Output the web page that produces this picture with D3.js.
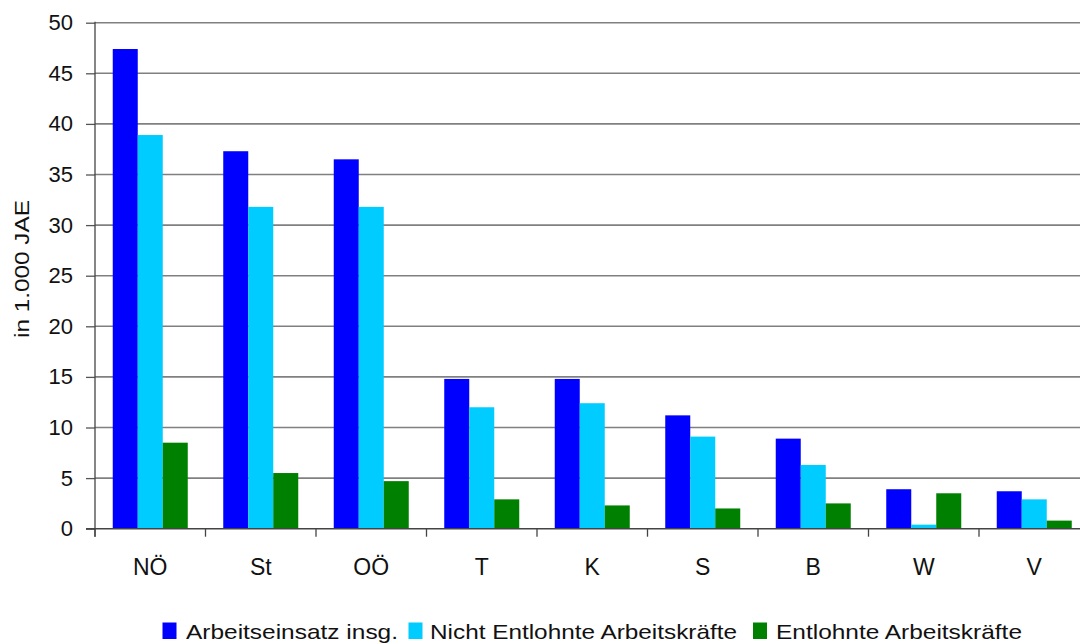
<!DOCTYPE html>
<html>
<head>
<meta charset="utf-8">
<script src="https://cdn.jsdelivr.net/npm/d3@7"></script>
<style>
  html, body { margin: 0; padding: 0; background: #fff; }
  svg { display: block; font-family: "Liberation Sans", Arial, sans-serif; }
</style>
</head>
<body>
<svg id="chart" width="1080" height="644"></svg>
<script>
// Bundesländer
const categories = ["NÖ", "St", "OÖ", "T", "K", "S", "B", "W", "V"];
// Arbeitseinsatz in 1.000 JAE
const seriesNames = ["Arbeitseinsatz insg.", "Nicht Entlohnte Arbeitskräfte", "Entlohnte Arbeitskräfte"];
const arbeitseinsatz = [47.4, 37.3, 36.5, 14.8, 14.8, 11.2, 8.9, 3.9, 3.7];
const nichtEntlohnt  = [38.9, 31.8, 31.8, 12.0, 12.4, 9.1, 6.3, 0.4, 2.9];
const entlohnt       = [8.5, 5.5, 4.7, 2.9, 2.3, 2.0, 2.5, 3.5, 0.8];
const yTicks = [0, 5, 10, 15, 20, 25, 30, 35, 40, 45, 50];
const colors = ["#0000FF", "#00CCFF", "#008000"];
const yTitle = "in 1.000 JAE";

const seriesValues = [arbeitseinsatz, nichtEntlohnt, entlohnt];

const svg = d3.select("#chart");
const plotLeft = 95, plotRight = 1089.5, plotTop = 22.7, plotBottom = 528.7;

const x0 = d3.scaleBand().domain(categories).range([plotLeft, plotRight]).paddingInner(0).paddingOuter(0);
const x1 = d3.scaleBand().domain(seriesNames).range([0, x0.bandwidth()]).paddingInner(0).paddingOuter(0.71);
const y = d3.scaleLinear().domain([0, 50]).range([plotBottom, plotTop]);

// gridlines
svg.append("g").selectAll("line")
  .data(yTicks.filter(d => d > 0))
  .join("line")
  .attr("x1", plotLeft).attr("x2", 1080)
  .attr("y1", d => y(d)).attr("y2", d => y(d))
  .attr("stroke", "#808080").attr("stroke-width", 1.6);

// y axis ticks and labels
const yAxis = d3.axisLeft(y).tickValues(yTicks).tickSize(9).tickPadding(13);
const gy = svg.append("g").attr("transform", `translate(${plotLeft},0)`).call(yAxis);
gy.select(".domain").remove();
gy.selectAll(".tick line").attr("stroke", "#555").attr("stroke-width", 1.3);
gy.selectAll(".tick text")
  .attr("font-size", 22).attr("fill", "#111")
  .attr("font-family", "Liberation Sans, Arial, sans-serif");

// bars
const groups = svg.append("g").selectAll("g")
  .data(categories)
  .join("g")
  .attr("transform", d => `translate(${x0(d)},0)`);

groups.selectAll("rect")
  .data((c, i) => seriesNames.map((s, k) => ({ s, k, v: seriesValues[k][i] })))
  .join("rect")
  .attr("x", d => x1(d.s))
  .attr("width", x1.bandwidth())
  .attr("y", d => y(d.v))
  .attr("height", d => y(0) - y(d.v))
  .attr("fill", d => colors[d.k]);

// y axis line
svg.append("line")
  .attr("x1", plotLeft).attr("x2", plotLeft)
  .attr("y1", plotTop - 1).attr("y2", plotBottom + 8)
  .attr("stroke", "#444").attr("stroke-width", 1.3);

// x axis line, category ticks and labels
svg.append("line")
  .attr("x1", plotLeft - 9).attr("x2", 1080)
  .attr("y1", plotBottom).attr("y2", plotBottom)
  .attr("stroke", "#444").attr("stroke-width", 1.6);

svg.append("g").selectAll("line")
  .data(categories)
  .join("line")
  .attr("x1", d => x0(d)).attr("x2", d => x0(d))
  .attr("y1", plotBottom).attr("y2", plotBottom + 8)
  .attr("stroke", "#444").attr("stroke-width", 1.3);

svg.append("g").selectAll("text")
  .data(categories)
  .join("text")
  .attr("x", d => x0(d) + x0.bandwidth() / 2)
  .attr("y", 575)
  .attr("text-anchor", "middle")
  .attr("font-size", 23)
  .attr("fill", "#111")
  .text(d => d);

// y axis title
svg.append("text")
  .attr("transform", "translate(29,269) rotate(-90)")
  .attr("text-anchor", "middle")
  .attr("font-size", 21)
  .attr("fill", "#111")
  .attr("textLength", 138)
  .attr("lengthAdjust", "spacingAndGlyphs")
  .text(yTitle);

// legend
const legendItems = [
  { sx: 162.5, tx: 186, tw: 212 },
  { sx: 408.5, tx: 430, tw: 307 },
  { sx: 753, tx: 776, tw: 246 }
];
const legend = svg.append("g").selectAll("g")
  .data(seriesNames)
  .join("g");
legend.append("rect")
  .attr("x", (d, i) => legendItems[i].sx)
  .attr("y", 622.5)
  .attr("width", 14).attr("height", 16.5)
  .attr("fill", (d, i) => colors[i]);
legend.append("text")
  .attr("x", (d, i) => legendItems[i].tx)
  .attr("y", 639)
  .attr("font-size", 21)
  .attr("fill", "#111")
  .attr("textLength", (d, i) => legendItems[i].tw)
  .attr("lengthAdjust", "spacingAndGlyphs")
  .text(d => d);
</script>
</body>
</html>
